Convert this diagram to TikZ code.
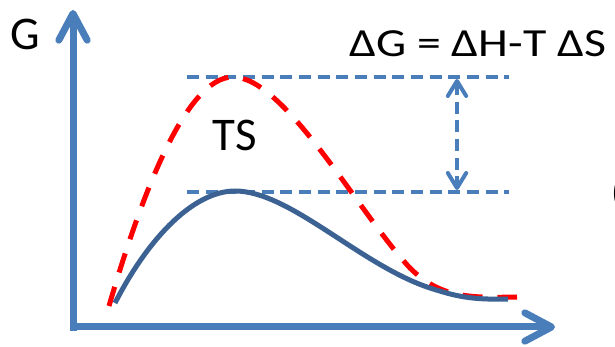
\documentclass[tikz,border=0pt]{standalone}
\usepackage{fontspec}
\setmainfont{Carlito}
\usetikzlibrary{arrows.meta, positioning}
\definecolor{axisblue}{HTML}{4A7EBB}
\definecolor{curveblue}{HTML}{3B6292}
\tikzset{
    axisline/.style={axisblue, line width=0.21cm, -{Straight Barb[length=0.8cm, width=0.85cm, round]}},
    levelline/.style={axisblue, line width=0.12cm, dash pattern=on 0.36cm off 0.2cm},
    gapline/.style={axisblue, line width=0.12cm, dash pattern=on 0.36cm off 0.2cm,
        {Straight Barb[length=0.45cm, width=0.55cm, round]}-{Straight Barb[length=0.45cm, width=0.55cm, round]}},
    bigtext/.style={inner sep=0pt, font=\fontsize{40}{44}\selectfont}
}

\begin{document}
\begin{tikzpicture}[x=0.03cm, y=-0.03cm]
    \useasboundingbox (0,0) rectangle (615,347);

    % 坐标轴
    \coordinate (ybot) at (73,331);
    \coordinate (ytop) at (73,10);
    \coordinate (xbeg) at (70,327);
    \coordinate (xend) at (555,327);
    \draw[axisline] (ybot) -- (ytop);
    \draw[axisline] (xbeg) -- (xend);
    \node[bigtext, anchor=base] (glabel) at (25,50) {G};

    % 能级虚线
    \coordinate (tsL) at (187,77);
    \coordinate (tsR) at (509,77);
    \coordinate (pkL) at (187,192);
    \coordinate (pkR) at (509,192);
    \draw[levelline] (tsL) -- (tsR);
    \draw[levelline] (pkL) -- (pkR);

    % 能垒差
    \coordinate (gapTop) at (457,79);
    \coordinate (gapBot) at (457,190);
    \draw[gapline] (gapTop) -- (gapBot);
    \node[inner sep=0pt, anchor=base west, font=\fontsize{34}{38}\selectfont] (eqn) at (349,57) {\scalebox{1.2}[1]{ΔG = ΔH-T ΔS}};

    % 过渡态曲线 (虚线)
    \draw[red, line width=0.15cm, dash pattern=on 0.6cm off 0.45cm]
        (109,306) .. controls (140,200) and (185,77) .. (233,77)
        .. controls (285,77) and (360,215) .. (410,268)
        .. controls (440,298) and (470,298) .. (517,297);
    \node[bigtext, anchor=base] (ts) at (235,151) {TS};

    % 实线
    \draw[curveblue, line width=0.15cm]
        (115,303) .. controls (150,235) and (195,191) .. (235,191)
        .. controls (290,191) and (360,265) .. (430,288)
        .. controls (455,296) and (470,300) .. (508,299);

    % 右侧被截去的括号
    \node[inner sep=0pt, anchor=base west, font=\fontsize{34}{38}\selectfont] (paren) at (611,206) {(};
\end{tikzpicture}
\end{document}
